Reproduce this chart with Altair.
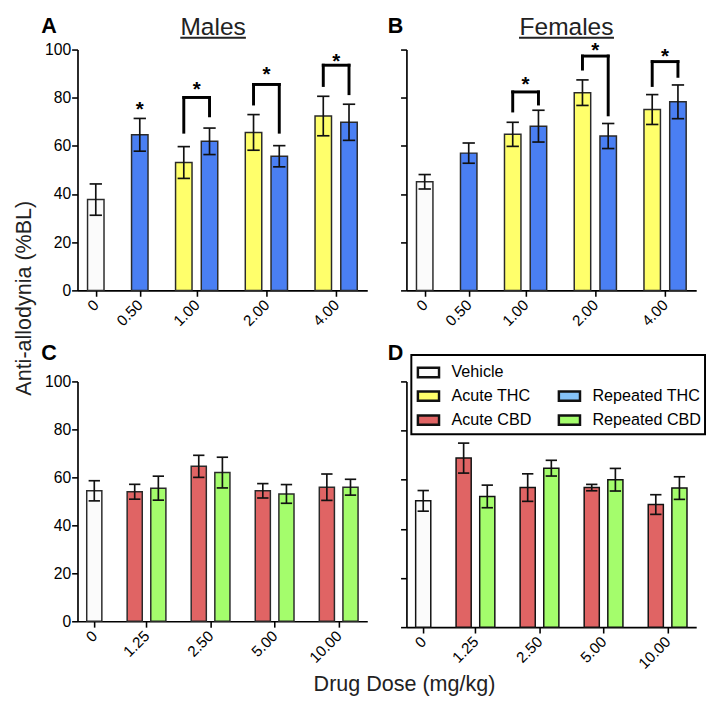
import altair as alt
import pandas as pd

FONT = "Liberation Sans"

# ---------------- data ----------------
THC_BAR_DOSE = ["0", "0.50", "1.00", "1.00", "2.00", "2.00", "4.00", "4.00"]
THC_BAR_TREAT = ["Vehicle", "Repeated THC", "Acute THC", "Repeated THC",
                 "Acute THC", "Repeated THC", "Acute THC", "Repeated THC"]
MALES_THC_MEAN = [37.7, 64.6, 53.1, 61.9, 65.6, 55.7, 72.4, 69.8]
MALES_THC_SEM = [6.5, 6.8, 6.6, 5.5, 7.4, 4.4, 8.2, 7.5]
FEMALES_THC_MEAN = [45.1, 57.0, 64.8, 68.2, 82.1, 64.1, 75.1, 78.3]
FEMALES_THC_SEM = [3.0, 4.2, 5.0, 6.6, 5.3, 5.2, 6.2, 7.0]

CBD_BAR_DOSE = ["0", "1.25", "1.25", "2.50", "2.50", "5.00", "5.00", "10.00", "10.00"]
CBD_BAR_TREAT = ["Vehicle", "Acute CBD", "Repeated CBD", "Acute CBD", "Repeated CBD",
                 "Acute CBD", "Repeated CBD", "Acute CBD", "Repeated CBD"]
MALES_CBD_MEAN = [54.4, 54.0, 55.5, 64.6, 62.0, 54.4, 53.1, 55.9, 55.9]
MALES_CBD_SEM = [4.2, 3.1, 5.0, 4.6, 6.4, 3.0, 3.9, 5.5, 3.3]
FEMALES_CBD_MEAN = [51.4, 68.8, 53.2, 56.8, 64.7, 56.8, 60.0, 49.9, 56.6]
FEMALES_CBD_SEM = [4.2, 6.1, 4.6, 5.6, 3.2, 1.3, 4.6, 4.0, 4.6]

# significance brackets (acute vs repeated)
MALES_BRACKET_DOSE = ["1.00", "2.00", "4.00"]
MALES_BRACKET_TOP = [80.1, 85.5, 93.5]
MALES_BRACKET_LEFT_END = [65.7, 77.4, 85.1]
MALES_BRACKET_RIGHT_END = [72.5, 65.7, 81.7]
FEMALES_BRACKET_DOSE = ["1.00", "2.00", "4.00"]
FEMALES_BRACKET_TOP = [82.4, 97.3, 95.0]
FEMALES_BRACKET_LEFT_END = [74.5, 91.9, 85.1]
FEMALES_BRACKET_RIGHT_END = [77.4, 72.9, 88.9]

MALES_STAR_DOSE = ["0.50", "1.00", "2.00", "4.00"]
MALES_STAR_Y = [77.2, 85.5, 91.9, 97.3]
FEMALES_STAR_DOSE = ["1.00", "2.00", "4.00"]
FEMALES_STAR_Y = [87.8, 101.6, 99.3]

THC_DOMAIN = ["Vehicle", "Acute THC", "Repeated THC"]
THC_COLORS = ["#fbfbfb", "#ffff6b", "#4a7ff3"]
CBD_DOMAIN = ["Vehicle", "Acute CBD", "Repeated CBD"]
CBD_COLORS = ["#fbfbfb", "#e06464", "#a4fd6c"]
LEGEND_LABELS = ["Vehicle", " ", "Acute THC", "Repeated THC", "Acute CBD", "Repeated CBD"]
LEGEND_COLORS = ["#fbfbfb", "transparent", "#ffff6b", "#85c2f7", "#e06464", "#a4fd6c"]
LEGEND_STROKES = ["#111", "transparent", "#111", "#111", "#111", "#111"]

PANEL_LETTERS = ["A", "B", "C", "D"]
PANEL_TITLES = ["Males", "Females"]
Y_TITLE = "Anti-allodynia (%BL)"
X_TITLE = "Drug Dose (mg/kg)"

# ---------------- layout (slot units) ----------------
PAD = 0.21
GAP = 0.71
BAR_W = 0.64
CAP_W = 0.48


def layout(doses):
    groups = list(dict.fromkeys(doses))
    counts = {g: doses.count(g) for g in groups}
    centers, pos = {}, PAD
    for i, g in enumerate(groups):
        if i:
            pos += GAP
        centers[g] = pos + counts[g] / 2
        pos += counts[g]
    total = pos + PAD
    seen, xs = {}, []
    for d in doses:
        k = seen.get(d, 0)
        seen[d] = k + 1
        xs.append(centers[d] - counts[d] / 2 + k + 0.5)
    return groups, centers, xs, total


def label_expr(groups, centers):
    parts = [f"abs(datum.value - {centers[g]:.4f}) < 0.01 ? '{g}'" for g in groups]
    return " : ".join(parts) + " : ''"


def panel(doses, treats, means, sems, domain, colors, width, height, show_y,
          letter, letter_xy, title=None, title_xy=None, underline=None,
          brackets=None, stars=None, legend=False, extra=None):
    groups, centers, xs, total = layout(doses)
    df = pd.DataFrame({"dose": doses, "treat": treats, "mean": means, "sem": sems, "xc": xs})
    df["x0"] = df.xc - BAR_W / 2
    df["x1"] = df.xc + BAR_W / 2
    df["lo"] = df["mean"] - df["sem"]
    df["hi"] = df["mean"] + df["sem"]
    df["c0"] = df.xc - CAP_W / 2
    df["c1"] = df.xc + CAP_W / 2

    xaxis = alt.Axis(values=[centers[g] for g in groups], labelExpr=label_expr(groups, centers),
                     labelAngle=-45, labelAlign="right", labelBaseline="middle",
                     labelPadding=6, labelFontSize=15.5, title=None, grid=False,
                     labelOverlap=False, labelFlush=False)
    yaxis = alt.Axis(values=[0, 20, 40, 60, 80, 100], labels=show_y, title=None, grid=False,
                     labelFontSize=16, labelPadding=1)
    xs_ = alt.Scale(domain=[0, total], nice=False, zero=False, padding=0)
    ys_ = alt.Scale(domain=[0, 100], nice=False, padding=0)

    def X(f):
        return alt.X(f"{f}:Q", scale=xs_, axis=xaxis)

    def Y(f):
        return alt.Y(f"{f}:Q", scale=ys_, axis=yaxis)

    base = alt.Chart(df)
    if legend:
        leg = alt.Legend(orient="none", legendX=5, legendY=-27, columns=2, direction="horizontal",
                         title=None, symbolType="M-0.9,-0.4H0.9V0.4H-0.9Z", symbolSize=576,
                         symbolStrokeWidth=2.5, labelFontSize=16.5, labelFont=FONT,
                         labelColor="#000", labelOffset=10, columnPadding=22, rowPadding=0.5,
                         padding=4, strokeColor="#000")
        fill = alt.Fill("treat:N", scale=alt.Scale(domain=LEGEND_LABELS, range=LEGEND_COLORS), legend=leg)
        stroke = alt.Stroke("treat:N", scale=alt.Scale(domain=LEGEND_LABELS, range=LEGEND_STROKES), legend=leg)
        bars = base.mark_bar(strokeWidth=1.5).encode(x=X("x0"), x2="x1:Q", y=Y("mean"),
                                                     y2=alt.datum(0), fill=fill, stroke=stroke)
    else:
        bars = base.mark_bar(strokeWidth=1.5, stroke="#2a2a2a").encode(
            x=X("x0"), x2="x1:Q", y=Y("mean"), y2=alt.datum(0),
            fill=alt.Fill("treat:N", scale=alt.Scale(domain=domain, range=colors), legend=None))
    err = base.mark_rule(color="#111", strokeWidth=1.7).encode(x=X("xc"), y=Y("lo"), y2="hi:Q")
    cap_hi = base.mark_rule(color="#111", strokeWidth=1.7).encode(x=X("c0"), x2="c1:Q", y=Y("hi"))
    cap_lo = base.mark_rule(color="#111", strokeWidth=1.7).encode(x=X("c0"), x2="c1:Q", y=Y("lo"))
    layers = [bars, err, cap_hi, cap_lo]

    if brackets:
        bd, top, le, re_ = brackets
        bdf = pd.DataFrame({"dose": bd, "top": top, "le": le, "re": re_})
        bdf["xl"] = [centers[d] - 0.5 for d in bd]
        bdf["xr"] = [centers[d] + 0.5 for d in bd]
        bb = alt.Chart(bdf)
        rk = dict(color="#000", strokeWidth=3, strokeCap="square")
        layers += [
            bb.mark_rule(**rk).encode(x=X("xl"), x2="xr:Q", y=Y("top")),
            bb.mark_rule(**rk).encode(x=X("xl"), y=Y("top"), y2="le:Q"),
            bb.mark_rule(**rk).encode(x=X("xr"), y=Y("top"), y2="re:Q"),
        ]
    if stars:
        sd, sy = stars
        sdf = pd.DataFrame({"dose": sd, "sy": sy, "sx": [centers[d] for d in sd]})
        layers.append(alt.Chart(sdf).mark_text(text="*", font=FONT, fontSize=21, fontWeight="bold",
                                               baseline="alphabetic", dy=12, color="#000")
                      .encode(x=X("sx"), y=Y("sy")))

    # annotations
    layers.append(alt.Chart(pd.DataFrame({"t": [letter]})).mark_text(
        font=FONT, fontSize=22, fontWeight="bold", align="left", baseline="alphabetic", color="#000")
        .encode(text="t:N", x=alt.value(letter_xy[0]), y=alt.value(letter_xy[1])))
    if title:
        layers.append(alt.Chart(pd.DataFrame({"t": [title]})).mark_text(
            font=FONT, fontSize=25, align="center", baseline="alphabetic", color="#222")
            .encode(text="t:N", x=alt.value(title_xy[0]), y=alt.value(title_xy[1])))
        layers.append(alt.Chart(pd.DataFrame({"t": [title]})).mark_rule(color="#222", strokeWidth=2)
                      .encode(x=alt.value(underline[0]), x2=alt.value(underline[1]), y=alt.value(underline[2])))
    if extra:
        layers += extra
    return alt.layer(*layers).properties(width=width, height=height)


ytitle = alt.Chart(pd.DataFrame({"t": [Y_TITLE]})).mark_text(
    font=FONT, fontSize=22, angle=270, align="center", baseline="alphabetic", color="#222").encode(
    text="t:N", x=alt.value(-48), y=alt.value(254))
xtitle = alt.Chart(pd.DataFrame({"t": [X_TITLE]})).mark_text(
    font=FONT, fontSize=22, align="center", baseline="alphabetic", color="#222").encode(
    text="t:N", x=alt.value(334), y=alt.value(316))

pA = panel(THC_BAR_DOSE, THC_BAR_TREAT, MALES_THC_MEAN, MALES_THC_SEM, THC_DOMAIN, THC_COLORS,
           296, 246, True, PANEL_LETTERS[0], (-37, -17), PANEL_TITLES[0], (138.5, -15), (105, 172, -12),
           brackets=(MALES_BRACKET_DOSE, MALES_BRACKET_TOP, MALES_BRACKET_LEFT_END, MALES_BRACKET_RIGHT_END),
           stars=(MALES_STAR_DOSE, MALES_STAR_Y), extra=[ytitle])
pB = panel(THC_BAR_DOSE, THC_BAR_TREAT, FEMALES_THC_MEAN, FEMALES_THC_SEM, THC_DOMAIN, THC_COLORS,
           296, 246, False, PANEL_LETTERS[1], (-19, -17), PANEL_TITLES[1], (163.5, -15), (115, 212, -12),
           brackets=(FEMALES_BRACKET_DOSE, FEMALES_BRACKET_TOP, FEMALES_BRACKET_LEFT_END, FEMALES_BRACKET_RIGHT_END),
           stars=(FEMALES_STAR_DOSE, FEMALES_STAR_Y))
pC = panel(CBD_BAR_DOSE, CBD_BAR_TREAT, MALES_CBD_MEAN, MALES_CBD_SEM, CBD_DOMAIN, CBD_COLORS,
           296, 245, True, PANEL_LETTERS[2], (-37, -22), extra=[xtitle])
pD = panel(CBD_BAR_DOSE, CBD_BAR_TREAT, FEMALES_CBD_MEAN, FEMALES_CBD_SEM, CBD_DOMAIN, CBD_COLORS,
           296, 251, False, PANEL_LETTERS[3], (-19, -22), legend=True)

chart = (alt.concat(pA, pB, pC, pD, columns=2, spacing={"row": 93, "column": 40}, bounds="flush")
         .resolve_scale(x="independent", fill="independent", stroke="independent")
         .resolve_legend(fill="independent", stroke="independent")
         .properties(padding={"left": 5, "top": 0, "right": 0, "bottom": 0})
         .configure_view(stroke=None)
         .configure_axis(labelFont=FONT, labelColor="#000", domainColor="#000", tickColor="#000",
                         domainWidth=1.7, tickWidth=1.6, tickSize=6)
         .configure_legend(strokeWidth=2))

chart.save("out.html", embed_options={"renderer": "svg", "actions": False})
